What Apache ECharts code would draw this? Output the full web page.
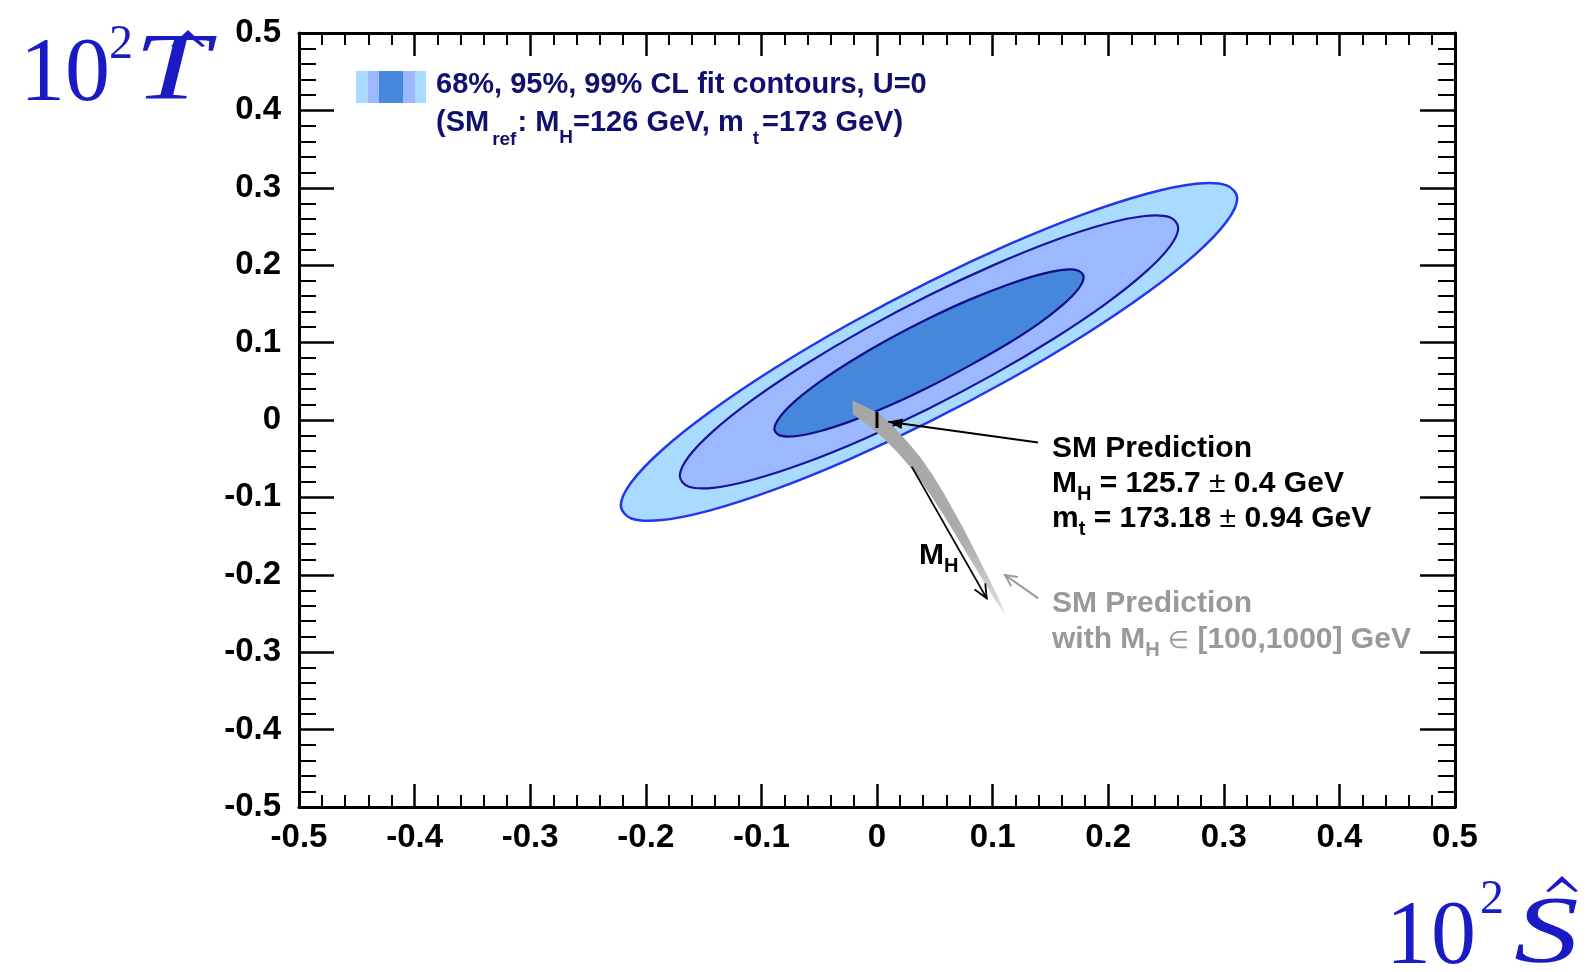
<!DOCTYPE html>
<html>
<head>
<meta charset="utf-8">
<script src="https://cdn.jsdelivr.net/npm/echarts@6/dist/echarts.min.js"></script>
<style>
  html, body { margin: 0; padding: 0; background: #ffffff; }
  #chart { width: 1588px; height: 972px; }
</style>
</head>
<body>
<div id="chart"></div>
<script>
// ---- data -----------------------------------------------------------------
// Tick labels shared by the S and T axes
const tickLabels = ['-0.5', '-0.4', '-0.3', '-0.2', '-0.1', '0', '0.1', '0.2', '0.3', '0.4', '0.5'];

// Fit contours in the (S, T) plane, U = 0, each as a closed list of [S, T]
const contour99 = [
  [0.3116, 0.2866], [0.3025, 0.3032], [0.2759, 0.3053], [0.2335, 0.2924], [0.1783, 0.2657], [0.1140, 0.2268],
  [0.0450, 0.1785], [-0.0240, 0.1240], [-0.0883, 0.0671], [-0.1435, 0.0116], [-0.1859, -0.0387], [-0.2125, -0.0804],
  [-0.2216, -0.1106], [-0.2125, -0.1272], [-0.1859, -0.1293], [-0.1435, -0.1164], [-0.0883, -0.0897], [-0.0240, -0.0508],
  [0.0450, -0.0025], [0.1140, 0.0520], [0.1783, 0.1089], [0.2335, 0.1644], [0.2759, 0.2147], [0.3025, 0.2564]
];
const contour95 = [
  [0.2606, 0.2485], [0.2533, 0.2619], [0.2317, 0.2636], [0.1975, 0.2532], [0.1528, 0.2316], [0.1008, 0.2001],
  [0.0450, 0.1611], [-0.0108, 0.1171], [-0.0628, 0.0710], [-0.1075, 0.0262], [-0.1417, -0.0144], [-0.1633, -0.0481],
  [-0.1706, -0.0725], [-0.1633, -0.0859], [-0.1417, -0.0876], [-0.1075, -0.0772], [-0.0628, -0.0556], [-0.0108, -0.0241],
  [0.0450, 0.0149], [0.1008, 0.0589], [0.1528, 0.1050], [0.1975, 0.1498], [0.2317, 0.1904], [0.2533, 0.2241]
];
const contour68 = [
  [0.1788, 0.1846], [0.1742, 0.1929], [0.1609, 0.1940], [0.1396, 0.1875], [0.1119, 0.1741], [0.0796, 0.1552],
  [0.0450, 0.1314], [0.0104, 0.1046], [-0.0219, 0.0765], [-0.0496, 0.0492], [-0.0709, 0.0244], [-0.0842, 0.0035],
  [-0.0888, -0.0116], [-0.0842, -0.0199], [-0.0709, -0.0210], [-0.0496, -0.0145], [-0.0219, -0.0011], [0.0104, 0.0183],
  [0.0450, 0.0426], [0.0796, 0.0699], [0.1119, 0.0975], [0.1396, 0.1243], [0.1609, 0.1491], [0.1742, 0.1695]
];

// SM prediction band for M_H in [100, 1000] GeV (lower edge down to the tip, upper edge back)
const smBand = [
  [-0.0208, 0.0071], [-0.0072, -0.0070], [0.0055, -0.0235], [0.0174, -0.0413], [0.0285, -0.0603], [0.0388, -0.0805],
  [0.0484, -0.1016], [0.0577, -0.1231], [0.0667, -0.1451], [0.0755, -0.1672], [0.0844, -0.1894], [0.0935, -0.2115],
  [0.1026, -0.2335], [0.1115, -0.2526],
  [0.1054, -0.2311], [0.0978, -0.2079], [0.0900, -0.1848], [0.0822, -0.1618], [0.0742, -0.1386], [0.0658, -0.1159],
  [0.0573, -0.0933], [0.0481, -0.0709], [0.0380, -0.0492], [0.0267, -0.0287], [0.0147, -0.0093], [0.0016, 0.0088],
  [-0.0212, 0.0252]
];

// SM prediction at M_H = 125.7 GeV, m_t = 173.18 GeV: [S, T, T uncertainty]
const smPoint = [[0.0, 0.0, 0.0103]];

// Annotation arrows in (S, T): [from, to]
const arrowSM = [[0.1393, -0.0292], [0.0098, -0.0022]];
const arrowMH = [[0.0300, -0.0603], [0.0949, -0.2304]];
const arrowBand = [[0.1395, -0.2304], [0.1107, -0.2003]];

// ---- styles ---------------------------------------------------------------
const SANS = "'Liberation Sans', Arial, Helvetica, sans-serif";
const SERIF = "'Liberation Serif', 'DejaVu Serif', serif";
const TITLE_BLUE = '#1b1bc6';
const NAVY = '#10106e';
const C_LIGHT = '#a9daff';
const C_MED = '#9cb9ff';
const C_DARK = '#4687dc';

const chart = echarts.init(document.getElementById('chart'), null, { renderer: 'canvas' });

function tickLabel(v) {
  const i = Math.round((v + 0.5) * 10);
  return tickLabels[i] !== undefined ? tickLabels[i] : '';
}

function makeAxis(position, isX, showLabels) {
  return {
    type: 'value', position: position, min: -0.5, max: 0.5, interval: 0.1,
    axisLine: { show: true, onZero: false, lineStyle: { color: '#000', width: 3 } },
    axisTick: { show: true, inside: true, length: isX ? 23 : 35, lineStyle: { color: '#000', width: 2.5 } },
    minorTick: { show: true, splitNumber: 5, length: isX ? 12 : 17, lineStyle: { color: '#000', width: 2 } },
    splitLine: { show: false },
    minorSplitLine: { show: false },
    axisLabel: {
      show: showLabels, formatter: tickLabel, color: '#000',
      fontFamily: SANS, fontWeight: 'bold', fontSize: 33,
      margin: isX ? 14 : 18, showMinLabel: true, showMaxLabel: true
    }
  };
}

// ---- text helpers ---------------------------------------------------------
const measureCtx = document.createElement('canvas').getContext('2d');
function fontStr(p) {
  return (p.style || 'normal') + ' ' + (p.weight || 'normal') + ' ' + p.size + 'px ' + p.family;
}
// Lay out a sequence of text pieces on a common baseline
function textRun(x, baseline, parts, defaults) {
  const els = [];
  let cx = x;
  parts.forEach(function (p0) {
    const p = Object.assign({}, defaults, p0);
    const sx = p.scaleX || 1;
    cx += (p.dx || 0);
    measureCtx.font = fontStr(p);
    const w = measureCtx.measureText(p.t).width * sx;
    els.push({
      type: 'text', silent: true, z: 100,
      x: cx, y: baseline + (p.dy || 0) - 0.31 * p.size, scaleX: sx,
      style: {
        text: p.t, fontSize: p.size, fontWeight: p.weight || 'normal', fontStyle: p.style || 'normal',
        fontFamily: p.family, fill: p.color, align: 'left', verticalAlign: 'middle'
      }
    });
    cx += w;
  });
  return els;
}

const bold30 = { size: 30, weight: 'bold', family: SANS, color: '#000' };
const gray30 = { size: 30, weight: 'bold', family: SANS, color: '#999999' };
const navy29 = { size: 29, weight: 'bold', family: SANS, color: NAVY };
const titleFont = { size: 90, family: SERIF, color: TITLE_BLUE };

let graphics = [];
// legend swatch: light / medium / dark / medium / light stripes
[[356, 12, C_LIGHT], [368, 11, C_MED], [379, 24, C_DARK], [403, 12, C_MED], [415, 11, C_LIGHT]].forEach(function (s) {
  graphics.push({ type: 'rect', silent: true, z: 100, shape: { x: s[0], y: 71, width: s[1], height: 32 }, style: { fill: s[2] } });
});
graphics = graphics.concat(
  textRun(436, 94, [{ t: '68%, 95%, 99% CL fit contours, U=0' }], navy29),
  textRun(436, 132, [
    { t: '(SM' }, { t: 'ref', size: 19, dy: 14, dx: 3 }, { t: ': M', dx: 1 }, { t: 'H', size: 19, dy: 12 },
    { t: '=126 GeV, m' }, { t: 't', size: 19, dy: 13, dx: 9 }, { t: '=173 GeV)', dx: 3 }
  ], navy29),
  textRun(1052, 458, [{ t: 'SM Prediction' }], bold30),
  textRun(1052, 493, [
    { t: 'M' }, { t: 'H', size: 20, dy: 8 }, { t: ' = 125.7 ' }, { t: '\u00b1', weight: 'normal' }, { t: ' 0.4 GeV' }
  ], bold30),
  textRun(1052, 528, [
    { t: 'm' }, { t: 't', size: 20, dy: 8 }, { t: ' = 173.18 ' }, { t: '\u00b1', weight: 'normal' }, { t: ' 0.94 GeV' }
  ], bold30),
  textRun(1052, 613, [{ t: 'SM Prediction' }], gray30),
  textRun(1052, 649, [
    { t: 'with M' }, { t: 'H', size: 20, dy: 8 }, { t: ' ' }, { t: '\u2208', weight: 'normal', size: 24 }, { t: ' [100,1000] GeV' }
  ], gray30),
  textRun(919, 565, [{ t: 'M' }, { t: 'H', size: 20, dy: 8 }], bold30),
  // axis titles
  textRun(20, 104, [{ t: '10' }], titleFont),
  textRun(109, 60, [{ t: '2' }], { size: 48, family: SERIF, color: TITLE_BLUE }),
  textRun(134, 104, [{ t: 'T', style: 'italic', size: 96, scaleX: 1.4 }], titleFont),
  textRun(1386, 967, [{ t: '10' }], titleFont),
  textRun(1480, 915, [{ t: '2' }], { size: 48, family: SERIF, color: TITLE_BLUE }),
  textRun(1514, 967, [{ t: 'S', style: 'italic', size: 96, scaleX: 1.35 }], titleFont)
);
// hats over T and S
function hat(cx, top, half, h) {
  return {
    type: 'polygon', silent: true, z: 100,
    shape: { points: [[cx - half, top + h], [cx, top], [cx + half, top + h], [cx + half - 3, top + h + 1], [cx, top + 6], [cx - half + 3, top + h + 1]] },
    style: { fill: TITLE_BLUE }
  };
}
graphics.push(hat(188, 30, 17, 16));
graphics.push(hat(1562, 876, 16, 15));

// ---- series ---------------------------------------------------------------
function contourSeries(name, pts, fill, stroke, width, z) {
  return {
    type: 'custom', name: name, coordinateSystem: 'cartesian2d', xAxisIndex: 0, yAxisIndex: 0,
    silent: true, z: z, data: [[0, 0]],
    renderItem: function (params, api) {
      return {
        type: 'polygon',
        shape: { points: pts.map(function (p) { return api.coord(p); }), smooth: 0.35 },
        style: { fill: fill, stroke: stroke, lineWidth: width }
      };
    }
  };
}

function arrowHead(from, to, len, halfAngle) {
  const ang = Math.atan2(to[1] - from[1], to[0] - from[0]);
  const a1 = ang + Math.PI - halfAngle, a2 = ang + Math.PI + halfAngle;
  return [[to[0] + len * Math.cos(a1), to[1] + len * Math.sin(a1)], to, [to[0] + len * Math.cos(a2), to[1] + len * Math.sin(a2)]];
}

const series = [
  contourSeries('99% CL', contour99, C_LIGHT, '#2236ee', 2.5, 2),
  contourSeries('95% CL', contour95, C_MED, '#16169c', 2.2, 3),
  contourSeries('68% CL', contour68, C_DARK, '#0e0e88', 2.2, 4),
  {
    type: 'custom', name: 'SM band', coordinateSystem: 'cartesian2d', silent: true, z: 5, data: [[0, 0]],
    renderItem: function (params, api) {
      return {
        type: 'polygon',
        shape: { points: smBand.map(function (p) { return api.coord(p); }) },
        style: {
          fill: new echarts.graphic.LinearGradient(0, 0, 0, 1, [
            { offset: 0, color: '#a6a6a6' }, { offset: 0.65, color: '#acacac' }, { offset: 1, color: '#e2e2e2' }
          ])
        }
      };
    }
  },
  {
    type: 'custom', name: 'SM point', coordinateSystem: 'cartesian2d', silent: true, z: 6, data: smPoint,
    renderItem: function (params, api) {
      const s = api.value(0), t = api.value(1), e = api.value(2);
      const p1 = api.coord([s, t - e]), p2 = api.coord([s, t + e]);
      return { type: 'line', shape: { x1: p1[0], y1: p1[1], x2: p2[0], y2: p2[1] }, style: { stroke: '#000', lineWidth: 3 } };
    }
  },
  {
    type: 'custom', name: 'arrows', coordinateSystem: 'cartesian2d', silent: true, z: 7, data: [[0, 0]],
    renderItem: function (params, api) {
      const a = api.coord(arrowSM[0]), b = api.coord(arrowSM[1]);
      const c = api.coord(arrowMH[0]), d = api.coord(arrowMH[1]);
      const e = api.coord(arrowBand[0]), f = api.coord(arrowBand[1]);
      return {
        type: 'group',
        children: [
          { type: 'line', shape: { x1: a[0], y1: a[1], x2: b[0], y2: b[1] }, style: { stroke: '#000', lineWidth: 2 } },
          { type: 'polygon', shape: { points: arrowHead(a, b, 15, 0.36) }, style: { fill: '#000' } },
          { type: 'line', shape: { x1: c[0], y1: c[1], x2: d[0], y2: d[1] }, style: { stroke: '#000', lineWidth: 1.8 } },
          { type: 'polyline', shape: { points: arrowHead(c, d, 15, 0.42) }, style: { stroke: '#000', lineWidth: 1.8, fill: null } },
          { type: 'line', shape: { x1: e[0], y1: e[1], x2: f[0], y2: f[1] }, style: { stroke: '#999', lineWidth: 2 } },
          { type: 'polyline', shape: { points: arrowHead(e, f, 13, 0.45) }, style: { stroke: '#999', lineWidth: 2, fill: null } }
        ]
      };
    }
  }
];

chart.setOption({
  animation: false,
  backgroundColor: '#ffffff',
  grid: { left: 299, top: 33, width: 1156, height: 774, containLabel: false, outerBoundsMode: 'none' },
  xAxis: [makeAxis('bottom', true, true), makeAxis('top', true, false)],
  yAxis: [makeAxis('left', false, true), makeAxis('right', false, false)],
  series: series,
  graphic: graphics
});
</script>
</body>
</html>
